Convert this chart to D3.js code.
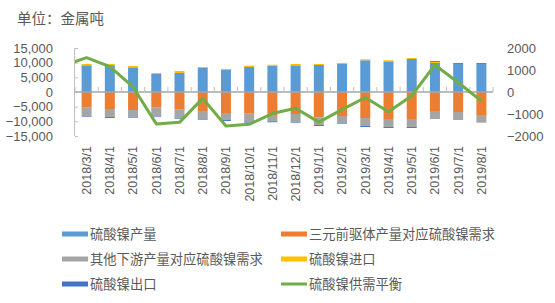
<!DOCTYPE html>
<html>
<head>
<meta charset="utf-8">
<script src="https://cdn.jsdelivr.net/npm/d3@7"></script>
<style>
  body { margin: 0; background: #fff; }
  svg { display: block; font-family: "Liberation Sans", "Noto Sans CJK SC", sans-serif; }
</style>
</head>
<body>
<svg id="chart" width="555" height="303"></svg>
<script>
// months on the category axis
const months = [
  "2018/3/1", "2018/4/1", "2018/5/1", "2018/6/1", "2018/7/1", "2018/8/1",
  "2018/9/1", "2018/10/1", "2018/11/1", "2018/12/1", "2019/1/1", "2019/2/1",
  "2019/3/1", "2019/4/1", "2019/5/1", "2019/6/1", "2019/7/1", "2019/8/1",
];

// left axis series (metal tons)
const production = [9100, 9150, 8420, 6140, 6480, 8180, 7500, 8530, 8970, 9100, 9200, 9550, 10810, 10470, 11250, 9890, 9550, 9550];
const ternaryDemand = [-5350, -5800, -6140, -5350, -6040, -6480, -7160, -7400, -7840, -7500, -8630, -8180, -8870, -9200, -9200, -6480, -6820, -7840];
const otherDemand = [-2730, -2730, -2280, -2730, -2730, -2620, -2390, -2730, -2150, -2620, -2620, -2280, -2730, -2730, -2730, -2730, -2730, -2620];
const imports = [450, 450, 450, 340, 680, 340, 340, 450, 340, 450, 340, 340, 340, 340, 340, 340, 0, 0];
const exports = [-320, -320, -320, -320, -320, -320, -320, -320, -320, -320, -320, -320, -320, -320, -320, 300, 300, 300];

// right axis series: supply/demand balance
const balance = [1560, 1150, 230, -1450, -1380, -290, -1545, -1470, -980, -740, -1370, -800, -250, -900, -170, 1230, 430, -410];
// the line enters from a month before the first category (clipped at the axis)
const balanceBefore = 1200;

const leftTicks = [15000, 10000, 5000, 0, -5000, -10000, -15000];
const rightTicks = [2000, 1000, 0, -1000, -2000];

const series = [
  { key: "production", name: "硫酸镍产量", values: production, color: "#5B9BD5" },
  { key: "ternary", name: "三元前驱体产量对应硫酸镍需求", values: ternaryDemand, color: "#ED7D31" },
  { key: "other", name: "其他下游产量对应硫酸镍需求", values: otherDemand, color: "#A5A5A5" },
  { key: "import", name: "硫酸镍进口", values: imports, color: "#FFC000" },
  { key: "export", name: "硫酸镍出口", values: exports, color: "#4472C4" },
];
const lineColor = "#70AD47";
const textColor = "#595959";

const svg = d3.select("#chart");
const plot = { left: 75, right: 493, top: 48, bottom: 136 };

const x = d3.scaleBand()
  .domain(months)
  .range([plot.left, plot.right])
  .paddingInner(0.57)
  .paddingOuter(0.285);
const step = (plot.right - plot.left) / months.length;
const cx = (m) => x(m) + x.bandwidth() / 2;

const yL = d3.scaleLinear().domain([-15000, 15000]).range([plot.bottom, plot.top]);
const yR = d3.scaleLinear().domain([-2000, 2000]).range([plot.bottom, plot.top]);

// title
svg.append("text")
  .attr("x", 17)
  .attr("y", 24)
  .attr("fill", textColor)
  .style("font-family", "'Noto Sans CJK SC', sans-serif")
  .style("font-size", "14.5px")
  .text("单位：金属吨");

// stacked bars (positive and negative stacked separately)
const table = months.map((m, i) => {
  const row = { month: m };
  series.forEach((s) => (row[s.key] = s.values[i]));
  return row;
});
const stacked = d3.stack()
  .keys(series.map((s) => s.key))
  .offset(d3.stackOffsetDiverging)(table);

svg.append("g")
  .selectAll("g")
  .data(stacked)
  .join("g")
  .attr("fill", (d, i) => series[i].color)
  .selectAll("rect")
  .data((d) => d)
  .join("rect")
  .attr("x", (d) => x(d.data.month))
  .attr("width", x.bandwidth())
  .attr("y", (d) => yL(Math.max(d[0], d[1])))
  .attr("height", (d) => Math.abs(yL(d[0]) - yL(d[1])));

// left axis
const leftAxis = svg.append("g")
  .attr("transform", `translate(${plot.left},0)`)
  .call(d3.axisLeft(yL).tickValues(leftTicks).tickSize(-3).tickPadding(22)
    .tickFormat(d3.format(",")));
leftAxis.select(".domain").attr("stroke", "#bfbfbf").attr("d", `M-0.5,${plot.top}V${plot.bottom}`);
leftAxis.selectAll(".tick line").attr("stroke", "#bfbfbf");
leftAxis.selectAll("text")
  .attr("fill", textColor)
  .style("font-size", "13px");

// right axis
const rightAxis = svg.append("g")
  .attr("transform", `translate(${plot.right},0)`)
  .call(d3.axisRight(yR).tickValues(rightTicks).tickSize(0).tickPadding(14)
    .tickFormat(d3.format("d")));
rightAxis.select(".domain").remove();
rightAxis.selectAll("text")
  .attr("fill", textColor)
  .style("font-size", "13px");

// category axis on the zero line, ticks pointing up
const xAxis = svg.append("g").attr("transform", `translate(0,${yL(0)})`);
xAxis.append("line")
  .attr("x1", plot.left).attr("x2", plot.right)
  .attr("stroke", "#a6a6a6").attr("stroke-width", 1.5);
xAxis.selectAll("line.tick")
  .data(d3.range(months.length + 1))
  .join("line")
  .attr("class", "tick")
  .attr("x1", (i) => plot.left + i * step)
  .attr("x2", (i) => plot.left + i * step)
  .attr("y1", 0).attr("y2", -5)
  .attr("stroke", "#bfbfbf");

// month labels, rotated
svg.append("g")
  .selectAll("text")
  .data(months)
  .join("text")
  .attr("transform", (m) => `translate(${cx(m)},146) rotate(-90)`)
  .attr("text-anchor", "end")
  .attr("dy", "0.35em")
  .attr("fill", textColor)
  .style("font-size", "12.5px")
  .text((m) => m);

// balance line
svg.append("clipPath").attr("id", "plotClip")
  .append("rect")
  .attr("x", plot.left).attr("y", 0)
  .attr("width", plot.right - plot.left + 10).attr("height", 303);

const linePts = [[cx(months[0]) - step, balanceBefore]]
  .concat(months.map((m, i) => [cx(m), balance[i]]));
svg.append("path")
  .datum(linePts)
  .attr("clip-path", "url(#plotClip)")
  .attr("fill", "none")
  .attr("stroke", lineColor)
  .attr("stroke-width", 3)
  .attr("stroke-linejoin", "round")
  .attr("d", d3.line().x((d) => d[0]).y((d) => yR(d[1])));

// legend
const legendItems = [
  { name: series[0].name, color: series[0].color, col: 0, row: 0 },
  { name: series[1].name, color: series[1].color, col: 1, row: 0 },
  { name: series[2].name, color: series[2].color, col: 0, row: 1 },
  { name: series[3].name, color: series[3].color, col: 1, row: 1 },
  { name: series[4].name, color: series[4].color, col: 0, row: 2 },
  { name: "硫酸镍供需平衡", color: lineColor, col: 1, row: 2, line: true },
];
const legend = svg.append("g");
const lg = legend.selectAll("g")
  .data(legendItems)
  .join("g")
  .attr("transform", (d) => `translate(${d.col ? 281 : 62},${234 + d.row * 25})`);
lg.filter((d) => !d.line).append("rect")
  .attr("x", 0).attr("y", -2.5)
  .attr("width", 26).attr("height", 5)
  .attr("fill", (d) => d.color);
lg.filter((d) => d.line).append("line")
  .attr("x1", 0).attr("x2", 26)
  .attr("stroke", (d) => d.color)
  .attr("stroke-width", 3);
lg.append("text")
  .attr("x", 28)
  .attr("dy", "0.36em")
  .attr("fill", textColor)
  .style("font-family", "'Noto Sans CJK SC', sans-serif")
  .style("font-size", "13.3px")
  .text((d) => d.name);
</script>
</body>
</html>
